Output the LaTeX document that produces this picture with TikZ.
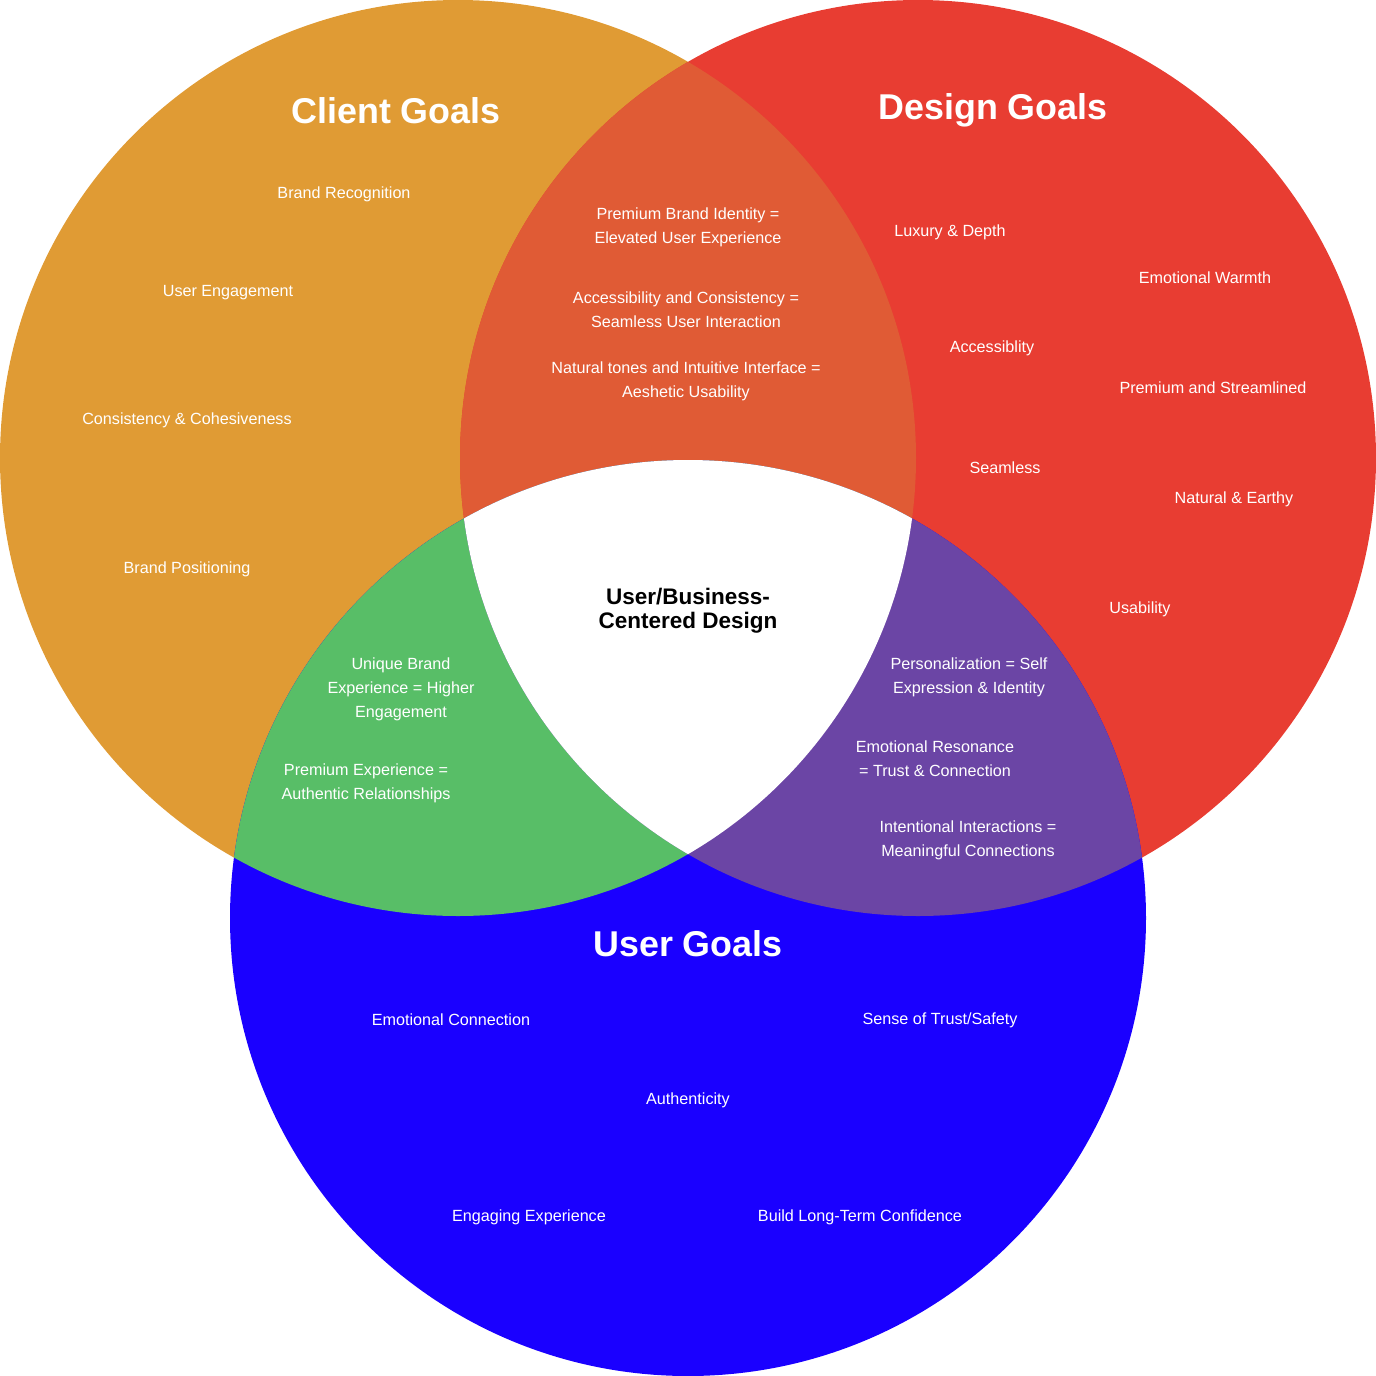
\documentclass[tikz,border=0pt]{standalone}
\usepackage{fontspec}
\setmainfont{Liberation Sans}
\usetikzlibrary{positioning}
\definecolor{clientc}{HTML}{E09B34}
\definecolor{designc}{HTML}{E83D32}
\definecolor{userc}{HTML}{1A00FF}
\definecolor{cdmix}{HTML}{E05B35}
\definecolor{cumix}{HTML}{58BE67}
\definecolor{dumix}{HTML}{6B45A5}

\begin{document}
\begin{tikzpicture}[x=0.025cm, y=-0.025cm,
  goal/.style={text=white, font=\fontsize{11.5}{17.1}\selectfont, align=center, inner sep=0pt, yshift=-0.05cm},
  title/.style={text=white, font=\fontsize{25.5}{30}\selectfont\bfseries, inner sep=0pt, yshift=-0.07cm},
  core/.style={text=black, font=\fontsize{16}{17.1}\selectfont\bfseries, align=center, inner sep=0pt, yshift=-0.07cm}
]
  \useasboundingbox (0,0) rectangle (1376,1376);
  \coordinate (cl) at (458,458);
  \coordinate (ds) at (918,458);
  \coordinate (us) at (688,918);
  % the three sets
  \fill[clientc] (cl) circle (458);
  \fill[designc] (ds) circle (458);
  \fill[userc] (us) circle (458);
  % overlaps
  \begin{scope}
    \clip (cl) circle (458);
    \fill[cdmix] (ds) circle (458);
    \fill[cumix] (us) circle (458);
  \end{scope}
  \begin{scope}
    \clip (ds) circle (458);
    \fill[dumix] (us) circle (458);
  \end{scope}
  \begin{scope}
    \clip (cl) circle (458);
    \clip (ds) circle (458);
    \fill[white] (us) circle (458);
  \end{scope}

  % client
  \node[title] (tcl) at (396,108) {Client Goals};
  \node[goal] (cl1) at (344,192) {Brand Recognition};
  \node[goal] (cl2) at (228,291) {User Engagement};
  \node[goal] (cl3) at (187,418) {Consistency \& Cohesiveness};
  \node[goal] (cl4) at (187,567) {Brand Positioning};

  % design
  \node[title] (tds) at (993,108) {Design Goals};
  \node[goal] (ds1) at (950,230) {Luxury \& Depth};
  \node[goal] (ds2) at (1205,276) {Emotional Warmth};
  \node[goal] (ds3) at (992,346) {Accessiblity};
  \node[goal] (ds4) at (1213,386) {Premium and Streamlined};
  \node[goal] (ds5) at (1005,466) {Seamless};
  \node[goal] (ds6) at (1234,497) {Natural \& Earthy};
  \node[goal] (ds7) at (1140,607) {Usability};

  % user
  \node[title] (tus) at (688,941) {User Goals};
  \node[goal] (us1) at (451,1018) {Emotional Connection};
  \node[goal] (us2) at (940,1018) {Sense of Trust/Safety};
  \node[goal] (us3) at (688,1098) {Authenticity};
  \node[goal] (us4) at (529,1215) {Engaging Experience};
  \node[goal] (us5) at (860,1215) {Build Long-Term Confidence};

  % client + design
  \node[goal] (cd1) at (688,225) {Premium Brand Identity =\\Elevated User Experience};
  \node[goal] (cd2) at (686,308) {Accessibility and Consistency =\\Seamless User Interaction};
  \node[goal] (cd3) at (686,379) {Natural tones and Intuitive Interface =\\Aeshetic Usability};

  % client + user
  \node[goal] (cu1) at (401,687) {Unique Brand\\Experience = Higher\\Engagement};
  \node[goal] (cu2) at (366,781) {Premium Experience =\\Authentic Relationships};

  % design + user
  \node[goal] (du1) at (969,675) {Personalization = Self\\Expression \& Identity};
  \node[goal] (du2) at (935,757) {Emotional Resonance\\= Trust \& Connection};
  \node[goal] (du3) at (968,838) {Intentional Interactions =\\Meaningful Connections};

  % centre
  \node[core] (ctr) at (688,608) {User/Business-\\Centered Design};
\end{tikzpicture}
\end{document}
